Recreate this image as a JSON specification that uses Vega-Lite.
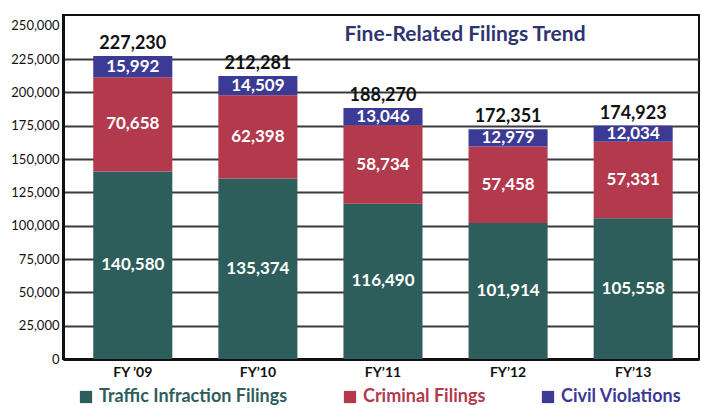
{
  "$schema": "https://vega.github.io/schema/vega-lite/v6.json",
  "width": 636,
  "height": 344,
  "autosize": "none",
  "padding": {"left": 63, "top": 15, "right": 3, "bottom": 53},
  "background": "white",
  "title": {
    "text": "Fine-Related Filings Trend",
    "anchor": "middle",
    "dx": 84,
    "dy": 41,
    "offset": 0,
    "baseline": "middle",
    "font": "Lato",
    "fontSize": 21,
    "fontWeight": "bold",
    "color": "#2f3471"
  },
  "config": {
    "font": "Lato",
    "view": {"stroke": "#111111", "strokeWidth": 2}
  },
  "data": {
    "values": [
      {"year": "FY ’09", "series": "Traffic Infraction Filings", "ord": 1, "value": 140580},
      {"year": "FY ’09", "series": "Criminal Filings", "ord": 2, "value": 70658},
      {"year": "FY ’09", "series": "Civil Violations", "ord": 3, "value": 15992},
      {"year": "FY’10", "series": "Traffic Infraction Filings", "ord": 1, "value": 135374},
      {"year": "FY’10", "series": "Criminal Filings", "ord": 2, "value": 62398},
      {"year": "FY’10", "series": "Civil Violations", "ord": 3, "value": 14509},
      {"year": "FY’11", "series": "Traffic Infraction Filings", "ord": 1, "value": 116490},
      {"year": "FY’11", "series": "Criminal Filings", "ord": 2, "value": 58734},
      {"year": "FY’11", "series": "Civil Violations", "ord": 3, "value": 13046},
      {"year": "FY’12", "series": "Traffic Infraction Filings", "ord": 1, "value": 101914},
      {"year": "FY’12", "series": "Criminal Filings", "ord": 2, "value": 57458},
      {"year": "FY’12", "series": "Civil Violations", "ord": 3, "value": 12979},
      {"year": "FY’13", "series": "Traffic Infraction Filings", "ord": 1, "value": 105558},
      {"year": "FY’13", "series": "Criminal Filings", "ord": 2, "value": 57331},
      {"year": "FY’13", "series": "Civil Violations", "ord": 3, "value": 12034}
    ]
  },
  "transform": [
    {"stack": "value", "groupby": ["year"], "sort": [{"field": "ord", "order": "ascending"}], "as": ["v0", "v1"]},
    {"calculate": "(datum.v0 + datum.v1) / 2", "as": "mid"}
  ],
  "encoding": {
    "x": {
      "field": "year",
      "type": "nominal",
      "sort": null,
      "title": null,
      "scale": {"paddingInner": 0.368, "paddingOuter": 0.226, "align": 0.535},
      "axis": {
        "labelAngle": 0,
        "labelFont": "Lato",
        "labelFontSize": 14,
        "labelFontWeight": "bold",
        "labelColor": "#111111",
        "labelPadding": 6,
        "ticks": false,
        "domainColor": "#111111",
        "domainWidth": 3
      }
    }
  },
  "layer": [
    {
      "mark": {"type": "bar"},
      "encoding": {
        "y": {
          "field": "v0",
          "type": "quantitative",
          "title": null,
          "scale": {"domain": [0, 258000], "nice": false, "zero": true},
          "axis": {
            "values": [0, 25000, 50000, 75000, 100000, 125000, 150000, 175000, 200000, 225000, 250000],
            "format": ",d",
            "labelOverlap": false,
            "labelFont": "Lato",
            "labelFontSize": 13,
            "labelColor": "#111111",
            "labelPadding": 4,
            "ticks": false,
            "domainColor": "#111111",
            "domainWidth": 3,
            "grid": true,
            "gridColor": {"condition": {"test": "datum.value >= 250000", "value": "transparent"}, "value": "#3a3a3a"},
            "gridWidth": 2,
            "gridOpacity": 1
          }
        },
        "y2": {"field": "v1"},
        "color": {
          "field": "series",
          "type": "nominal",
          "scale": {
            "domain": ["Traffic Infraction Filings", "Criminal Filings", "Civil Violations"],
            "range": ["#2e5e5b", "#b23a4c", "#3b3a95"]
          },
          "legend": {
            "orient": "none",
            "legendX": 14,
            "legendY": 373,
            "direction": "horizontal",
            "title": null,
            "symbolType": "square",
            "symbolSize": 150,
            "symbolOpacity": 1,
            "symbolStrokeWidth": 0,
            "labelFont": "Lato",
            "labelFontSize": 18,
            "labelFontWeight": "bold",
            "labelOffset": 4,
            "columnPadding": 53,
            "labelLimit": 300,
            "encode": {
              "labels": {"update": {"fill": {"scale": "color", "field": "value"}, "fontWeight": {"value": "bold"}}}
            }
          }
        },
        "order": {"field": "ord", "type": "quantitative"}
      }
    },
    {
      "mark": {"type": "text", "color": "white", "fontWeight": "bold", "fontSize": 17, "font": "Lato", "baseline": "middle"},
      "encoding": {
        "y": {
          "field": "mid",
          "type": "quantitative",
          "title": null,
          "scale": {"domain": [0, 258000], "nice": false, "zero": true},
          "axis": {
            "values": [0, 25000, 50000, 75000, 100000, 125000, 150000, 175000, 200000, 225000, 250000],
            "format": ",d",
            "labelOverlap": false,
            "labelFont": "Lato",
            "labelFontSize": 13,
            "labelColor": "#111111",
            "labelPadding": 4,
            "ticks": false,
            "domainColor": "#111111",
            "domainWidth": 3,
            "grid": true,
            "gridColor": {"condition": {"test": "datum.value >= 250000", "value": "transparent"}, "value": "#3a3a3a"},
            "gridWidth": 2,
            "gridOpacity": 1
          }
        },
        "text": {"field": "value", "type": "quantitative", "format": ","}
      }
    },
    {
      "mark": {"type": "text", "color": "#111111", "fontWeight": "bold", "fontSize": 18, "font": "Lato", "baseline": "bottom", "dy": -3},
      "encoding": {
        "y": {
          "aggregate": "sum",
          "field": "value",
          "type": "quantitative",
          "title": null,
          "scale": {"domain": [0, 258000], "nice": false, "zero": true},
          "axis": {
            "values": [0, 25000, 50000, 75000, 100000, 125000, 150000, 175000, 200000, 225000, 250000],
            "format": ",d",
            "labelOverlap": false,
            "labelFont": "Lato",
            "labelFontSize": 13,
            "labelColor": "#111111",
            "labelPadding": 4,
            "ticks": false,
            "domainColor": "#111111",
            "domainWidth": 3,
            "grid": true,
            "gridColor": {"condition": {"test": "datum.value >= 250000", "value": "transparent"}, "value": "#3a3a3a"},
            "gridWidth": 2,
            "gridOpacity": 1
          }
        },
        "text": {"aggregate": "sum", "field": "value", "type": "quantitative", "format": ","}
      }
    }
  ]
}
